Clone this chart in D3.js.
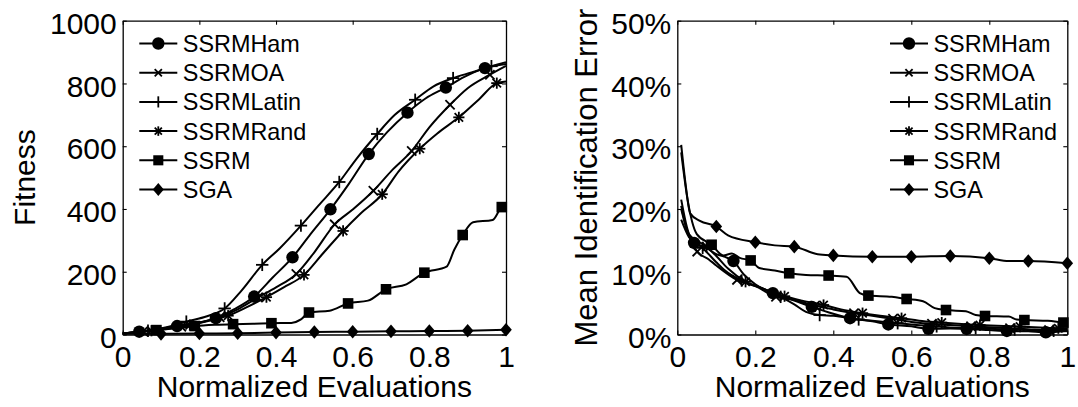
<!DOCTYPE html>
<html><head><meta charset="utf-8">
<script src="https://cdn.jsdelivr.net/npm/d3@7"></script>
<style>
body{margin:0;background:#fff}
svg{display:block}
text{font-family:"Liberation Sans",Arial,Helvetica,sans-serif;fill:#000}
</style>
</head><body>
<svg id="c" width="1078" height="407"></svg>
<script>
// ---------- data ----------
const seriesNames = ["SSRMHam","SSRMOA","SSRMLatin","SSRMRand","SSRM","SGA"];
const markerTypes = ["circle","x","plus","asterisk","square","diamond"];

const xTicks = [0,0.2,0.4,0.6,0.8,1];
const xTickLabels = ["0","0.2","0.4","0.6","0.8","1"];
const fitTicks = [0,200,400,600,800,1000];
const fitTickLabels = ["0","200","400","600","800","1000"];
const errTicks = [0,10,20,30,40,50];
const errTickLabels = ["0%","10%","20%","30%","40%","50%"];

// Left panel: Fitness vs normalized evaluations
const fitHam = [[0,3],[0.043,9],[0.09,17],[0.142,27],[0.2,38],[0.243,52],[0.29,80],[0.343,121],[0.39,180],[0.443,246],[0.49,320],[0.542,399],[0.59,480],[0.642,575],[0.69,645],[0.743,707],[0.79,752],[0.843,787],[0.89,820],[0.945,849],[1,862]];
const fitHamMk = [0.043,0.142,0.243,0.343,0.443,0.542,0.642,0.743,0.843,0.945];
const fitOA = [[0,3],[0.053,10],[0.1,17],[0.153,25],[0.2,38],[0.253,55],[0.3,80],[0.353,118],[0.4,150],[0.453,193],[0.5,262],[0.553,351],[0.6,398],[0.654,458],[0.7,520],[0.754,585],[0.8,660],[0.854,732],[0.9,785],[0.958,828],[1,856]];
const fitOAMk = [0.053,0.153,0.253,0.353,0.453,0.553,0.654,0.754,0.854,0.958];
const fitLatin = [[0,3],[0.066,12],[0.12,25],[0.166,41],[0.22,58],[0.266,83],[0.31,140],[0.364,222],[0.41,275],[0.465,347],[0.51,410],[0.565,486],[0.61,560],[0.664,639],[0.71,700],[0.763,748],[0.81,790],[0.862,817],[0.91,835],[0.962,855],[1,868]];
const fitLatinMk = [0.066,0.166,0.266,0.364,0.465,0.565,0.664,0.763,0.862,0.962];
const fitRand = [[0,3],[0.075,12],[0.12,20],[0.175,30],[0.22,42],[0.275,60],[0.32,85],[0.375,119],[0.42,150],[0.473,190],[0.52,255],[0.575,330],[0.62,385],[0.677,447],[0.72,520],[0.775,592],[0.82,640],[0.877,692],[0.93,750],[0.976,801],[1,806]];
const fitRandMk = [0.075,0.175,0.275,0.375,0.473,0.575,0.677,0.775,0.877,0.976];
const fitSSRM = [[0,3],[0.088,14],[0.14,20],[0.188,27],[0.24,31],[0.288,33],[0.34,34],[0.388,36],[0.44,37],[0.465,48],[0.486,70],[0.54,76],[0.588,99],[0.64,108],[0.687,144],[0.74,160],[0.787,197],[0.845,216],[0.865,270],[0.887,317],[0.914,358],[0.965,365],[0.989,406],[1,410]];
const fitSSRMMk = [0.088,0.188,0.288,0.388,0.486,0.588,0.687,0.787,0.887,0.989];
const fitSGA = [[0,2],[0.1,2],[0.2,3],[0.3,4],[0.4,6],[0.5,8],[0.6,9],[0.7,10],[0.8,11],[0.9,12],[1,15]];
const fitSGAMk = [0.1,0.2,0.3,0.4,0.5,0.6,0.7,0.8,0.9,1];

// Right panel: Mean identification error (%)
const errHam = [[0.01,20.5],[0.025,16.5],[0.043,14.6],[0.07,14.0],[0.1,12.8],[0.12,12.4],[0.144,11.7],[0.17,9.6],[0.2,8.0],[0.245,6.6],[0.3,5.4],[0.345,4.4],[0.4,3.3],[0.443,2.6],[0.5,2.1],[0.541,1.6],[0.6,1.3],[0.644,0.9],[0.7,0.95],[0.742,0.88],[0.8,0.7],[0.845,0.56],[0.9,0.5],[0.945,0.35],[1,0.6]];
const errHamMk = [0.043,0.144,0.245,0.345,0.443,0.541,0.644,0.742,0.845,0.945];
const errOA = [[0.01,21.5],[0.025,17],[0.051,13.2],[0.08,12.0],[0.1,11.0],[0.153,8.7],[0.2,7.7],[0.253,6.0],[0.3,5.5],[0.353,4.6],[0.4,4.0],[0.453,3.4],[0.5,3.0],[0.553,2.5],[0.6,2.0],[0.653,1.7],[0.7,1.5],[0.753,1.3],[0.8,1.15],[0.853,1.0],[0.9,0.85],[0.953,0.7],[1,0.7]];
const errOAMk = [0.051,0.153,0.253,0.353,0.453,0.553,0.653,0.753,0.853,0.953];
const errLatin = [[0.01,18.3],[0.03,15.5],[0.065,13.8],[0.1,11.5],[0.12,10.3],[0.165,8.6],[0.2,7.8],[0.265,6.0],[0.3,4.8],[0.33,3.6],[0.365,3.1],[0.4,3.0],[0.465,2.4],[0.5,2.2],[0.565,1.8],[0.6,1.6],[0.665,1.3],[0.7,1.1],[0.765,1.0],[0.8,0.9],[0.865,0.8],[0.9,0.7],[0.965,0.6],[1,0.5]];
const errLatinMk = [0.065,0.165,0.265,0.365,0.465,0.565,0.665,0.765,0.865,0.965];
const errRand = [[0.01,20],[0.03,16],[0.075,14.0],[0.1,12.5],[0.13,10.5],[0.175,8.4],[0.22,7.3],[0.275,6.1],[0.32,5.4],[0.375,4.7],[0.42,4.0],[0.475,3.4],[0.52,3.0],[0.575,2.6],[0.62,2.2],[0.678,1.9],[0.72,1.7],[0.776,1.5],[0.82,1.4],[0.879,1.25],[0.93,1.1],[0.977,1.0],[1,1.0]];
const errRandMk = [0.075,0.175,0.275,0.375,0.475,0.575,0.678,0.776,0.879,0.977];
const errSSRM = [[0.01,29],[0.025,22],[0.05,16],[0.088,14.3],[0.118,12.6],[0.14,12.9],[0.16,12.2],[0.188,11.8],[0.21,10.6],[0.25,10.2],[0.287,9.76],[0.33,9.5],[0.388,9.4],[0.434,9.2],[0.468,6.6],[0.49,6.2],[0.55,6.0],[0.588,5.66],[0.63,5.3],[0.66,4.2],[0.689,3.9],[0.74,3.7],[0.765,3.1],[0.789,2.95],[0.85,2.85],[0.87,2.4],[0.89,2.3],[0.95,2.2],[0.99,1.9],[1,1.85]];
const errSSRMMk = [0.088,0.188,0.287,0.388,0.49,0.588,0.689,0.789,0.89,0.99];
const errSGA = [[0.01,30.2],[0.02,24.6],[0.033,19.3],[0.058,18.1],[0.1,17.2],[0.13,15.8],[0.2,14.7],[0.25,14.2],[0.3,14.0],[0.36,12.8],[0.4,12.6],[0.5,12.4],[0.6,12.4],[0.7,12.5],[0.8,12.15],[0.85,11.7],[0.9,11.7],[1,11.35]];
const errSGAMk = [0.1,0.2,0.3,0.4,0.5,0.6,0.7,0.8,0.9,1];

// ---------- drawing ----------
const svg = d3.select("#c");
const TOP = 20.7, BOTTOM = 334.5;

function marker(g, type, cx, cy, s) {
  s = s || 1;
  const m = g.append("g").attr("transform", `translate(${cx},${cy})`);
  const sw = 1.8;
  if (type === "circle") {
    m.append("circle").attr("r", 6.2*s).attr("fill","#000");
  } else if (type === "square") {
    const h = 5.3*s;
    m.append("rect").attr("x",-h).attr("y",-h).attr("width",2*h).attr("height",2*h).attr("fill","#000");
  } else if (type === "diamond") {
    const h = 6.8*s, w = 5.8*s;
    m.append("path").attr("d",`M0,${-h}L${w},0L0,${h}L${-w},0Z`).attr("fill","#000");
  } else {
    let segs = [];
    if (type === "x" || type === "asterisk") {
      const a = (type === "x" ? 4.6 : 4.2)*s;
      segs.push([-a,-a,a,a],[-a,a,a,-a]);
    }
    if (type === "plus" || type === "asterisk") {
      const a = (type === "plus" ? 6.2 : 5.6)*s;
      segs.push([-a,0,a,0],[0,-a,0,a]);
    }
    segs.forEach(q => m.append("line").attr("x1",q[0]).attr("y1",q[1]).attr("x2",q[2]).attr("y2",q[3])
      .attr("stroke","#000").attr("stroke-width",sw).attr("stroke-linecap","butt"));
  }
}

function panel(cfg) {
  const g = svg.append("g");
  const x = d3.scaleLinear().domain([0,1]).range([cfg.x0, cfg.x1]);
  const y = d3.scaleLinear().domain(cfg.yDomain).range([BOTTOM, TOP]);

  const axStyle = sel => {
    sel.selectAll("path.domain").attr("stroke","#000").attr("stroke-width",1.3);
    sel.selectAll(".tick line").attr("stroke","#000").attr("stroke-width",1.1);
    sel.selectAll("text").attr("font-size","30px")
      .style("font-family",'"Liberation Sans",Arial,Helvetica,sans-serif').attr("fill","#000");
  };

  g.append("g").attr("transform",`translate(0,${BOTTOM})`)
    .call(d3.axisBottom(x).tickValues(xTicks).tickFormat((d,i)=>xTickLabels[i]).tickSize(-4).tickSizeOuter(0).tickPadding(11))
    .call(axStyle);
  g.append("g").attr("transform",`translate(0,${TOP})`)
    .call(d3.axisTop(x).tickValues(xTicks).tickFormat("").tickSize(-4).tickSizeOuter(0))
    .call(axStyle);
  const la = g.append("g").attr("transform",`translate(${cfg.x0},0)`)
    .call(d3.axisLeft(y).tickValues(cfg.yTicks).tickFormat((d,i)=>cfg.yLabels[i]).tickSize(-4).tickSizeOuter(0).tickPadding(6))
    .call(axStyle);
  la.selectAll("text").attr("dy","0.42em");
  g.append("g").attr("transform",`translate(${cfg.x1},0)`)
    .call(d3.axisRight(y).tickValues(cfg.yTicks).tickFormat("").tickSize(-4).tickSizeOuter(0))
    .call(axStyle);

  // axis labels
  g.append("text").attr("x",(cfg.x0+cfg.x1)/2).attr("y",397).attr("text-anchor","middle")
    .attr("font-size","30px").text("Normalized Evaluations");
  g.append("text").attr("transform",`translate(${cfg.yLabelX},${(TOP+BOTTOM)/2}) rotate(-90)`)
    .attr("text-anchor","middle").attr("font-size",cfg.yLabelSize+"px").text(cfg.yLabel);

  // lines
  const line = d3.line().x(d=>x(d[0])).y(d=>y(d[1])).curve(d3.curveMonotoneX);
  cfg.lines.forEach((pts,i) => {
    g.append("path").attr("d",line(pts)).attr("fill","none").attr("stroke","#000")
      .attr("stroke-width",2).attr("stroke-linejoin","round");
  });
  // markers
  cfg.lines.forEach((pts,i) => {
    cfg.marks[i].forEach(mx => {
      const p = pts.find(d => Math.abs(d[0]-mx) < 1e-9);
      if (p) marker(g, markerTypes[i], x(p[0]), y(p[1]));
    });
  });

  // legend
  seriesNames.forEach((name,i) => {
    const ly = 43.5 + i*29.2;
    g.append("line").attr("x1",cfg.legX).attr("x2",cfg.legX+38).attr("y1",ly).attr("y2",ly)
      .attr("stroke","#000").attr("stroke-width",2);
    const ls = {circle:1, x:0.78, plus:0.9, asterisk:0.85, square:0.95, diamond:0.95}[markerTypes[i]];
    marker(g, markerTypes[i], cfg.legX+19, ly, ls);
    g.append("text").attr("x",cfg.legX+43.5).attr("y",ly).attr("dy","0.36em")
      .attr("font-size","23.4px").text(name);
  });
}

panel({
  x0:122.7, x1:506, yDomain:[0,1000], yTicks:fitTicks, yLabels:fitTickLabels,
  yLabel:"Fitness", yLabelX:35, yLabelSize:30,
  lines:[fitHam,fitOA,fitLatin,fitRand,fitSSRM,fitSGA],
  marks:[fitHamMk,fitOAMk,fitLatinMk,fitRandMk,fitSSRMMk,fitSGAMk],
  legX:139.3
});
panel({
  x0:677.3, x1:1067.3, yDomain:[0,50], yTicks:errTicks, yLabels:errTickLabels,
  yLabel:"Mean Identification Error", yLabelX:597, yLabelSize:31,
  lines:[errHam,errOA,errLatin,errRand,errSSRM,errSGA],
  marks:[errHamMk,errOAMk,errLatinMk,errRandMk,errSSRMMk,errSGAMk],
  legX:890
});
</script>
</body></html>
